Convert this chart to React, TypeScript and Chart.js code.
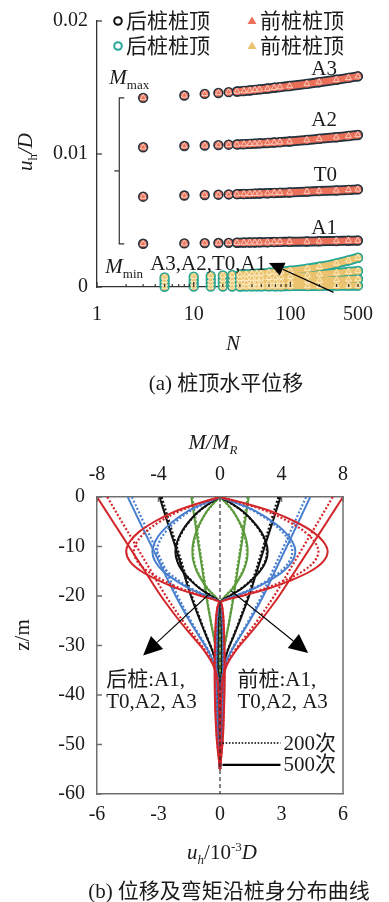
import React, { useEffect, useRef } from 'react';
import { Chart, registerables } from 'chart.js';

Chart.register(...registerables);

const SERIF = '"Liberation Serif", "Noto Sans CJK SC", serif';

// ---------------- (a) pile-head horizontal displacement ----------------
const X_TICKS_A = [1, 10, 100, 500];
const Y_TICKS_A = [0, 0.01, 0.02];
const N_MAX = [3, 8, 13, 18, 23, 28, 33, 38, 43, 48, 58, 68, 78, 98, 148, 198, 298, 398, 498];
const MAX_A3 = [0.01422, 0.0144, 0.01452, 0.01459, 0.01465, 0.0147, 0.01474, 0.01478, 0.01482, 0.01486, 0.01492, 0.01498, 0.01503, 0.01511, 0.01527, 0.0154, 0.01558, 0.01572, 0.01584];
const MAX_A2 = [0.01051, 0.0106, 0.01064, 0.01067, 0.0107, 0.01072, 0.01074, 0.01076, 0.01078, 0.0108, 0.01083, 0.01086, 0.01089, 0.01094, 0.01105, 0.01114, 0.01126, 0.01135, 0.01143];
const MAX_T0 = [0.00679, 0.00688, 0.00692, 0.00694, 0.00696, 0.00698, 0.00699, 0.007, 0.00702, 0.00703, 0.00705, 0.00707, 0.00708, 0.00711, 0.00717, 0.00721, 0.00726, 0.0073, 0.00734];
const MAX_A1 = [0.00325, 0.00328, 0.0033, 0.00331, 0.00332, 0.00333, 0.00334, 0.00335, 0.00335, 0.00336, 0.00337, 0.00338, 0.00339, 0.0034, 0.00342, 0.00344, 0.00346, 0.00348, 0.00349];
const N_MIN = [5, 10, 15, 20, 25, 30, 35, 40, 45, 50, 60, 70, 80, 100, 150, 200, 300, 400, 500];
const MIN_A3 = [0.00072, 0.00078, 0.00083, 0.00087, 0.0009, 0.00093, 0.00095, 0.00098, 0.001, 0.00102, 0.00107, 0.00111, 0.00115, 0.00122, 0.00138, 0.00152, 0.00178, 0.002, 0.0022];
const MIN_A2 = [0.00048, 0.00052, 0.00055, 0.00057, 0.00059, 0.00061, 0.00062, 0.00064, 0.00065, 0.00066, 0.00069, 0.00071, 0.00074, 0.00078, 0.00087, 0.00095, 0.00106, 0.00114, 0.0012];
const MIN_T0 = [0.00024, 0.00026, 0.00028, 0.00029, 0.0003, 0.00031, 0.00032, 0.00033, 0.00033, 0.00034, 0.00035, 0.00037, 0.00038, 0.0004, 0.00044, 0.00048, 0.00053, 0.00057, 0.0006];
const MIN_A1 = [0.00002, 0.00003, 0.00003, 0.00004, 0.00004, 0.00004, 0.00005, 0.00005, 0.00005, 0.00005, 0.00006, 0.00006, 0.00006, 0.00007, 0.00007, 0.00008, 0.00009, 0.0001, 0.0001];
const CURVE_NAMES = ['A3', 'A2', 'T0', 'A1'];
const LEGEND_REAR = '后桩桩顶';
const LEGEND_FRONT = '前桩桩顶';
const BAND_START = 5;

// ---------------- (b) distribution along pile ----------------
const ZD = [0, -5, -10, -15, -20, -25, -28, -31, -34, -37, -42, -48, -55];
const ZM = [0, -1.5, -3, -5, -7, -9, -11, -13, -15, -17, -18.5, -20, -21.3, -23, -28, -35, -42, -49, -55];

const U_REAR_A3_500 = [-6.0, -5.22, -4.44, -3.66, -2.88, -1.98, -1.38, -0.78, -0.33, -0.12, -0.04, -0.01, 0];
const U_REAR_A3_200 = [-5.5, -4.79, -4.07, -3.36, -2.64, -1.82, -1.27, -0.72, -0.3, -0.11, -0.03, -0.01, 0];
const U_REAR_A2_500 = [-4.5, -3.92, -3.33, -2.75, -2.16, -1.49, -1.04, -0.59, -0.25, -0.09, -0.03, -0.01, 0];
const U_REAR_A2_200 = [-4.3, -3.74, -3.18, -2.62, -2.06, -1.42, -0.99, -0.56, -0.24, -0.09, -0.03, -0.01, 0];
const U_REAR_T0_500 = [-2.95, -2.57, -2.18, -1.8, -1.42, -0.97, -0.68, -0.38, -0.16, -0.06, -0.02, -0.01, 0];
const U_REAR_T0_200 = [-2.85, -2.48, -2.11, -1.74, -1.37, -0.94, -0.66, -0.37, -0.16, -0.06, -0.02, -0.01, 0];
const U_REAR_A1_500 = [-1.4, -1.22, -1.04, -0.85, -0.67, -0.46, -0.32, -0.18, -0.08, -0.03, -0.01, 0, 0];
const U_REAR_A1_200 = [-1.35, -1.17, -1.0, -0.82, -0.65, -0.45, -0.31, -0.18, -0.07, -0.03, -0.01, 0, 0];
const U_FRONT_A3_500 = [6.0, 5.22, 4.44, 3.66, 2.88, 1.98, 1.38, 0.78, 0.33, 0.12, 0.04, 0.01, 0];
const U_FRONT_A3_200 = [5.5, 4.79, 4.07, 3.36, 2.64, 1.82, 1.27, 0.72, 0.3, 0.11, 0.03, 0.01, 0];
const U_FRONT_A2_500 = [4.4, 3.83, 3.26, 2.68, 2.11, 1.45, 1.01, 0.57, 0.24, 0.09, 0.03, 0.01, 0];
const U_FRONT_A2_200 = [4.2, 3.65, 3.11, 2.56, 2.02, 1.39, 0.97, 0.55, 0.23, 0.08, 0.03, 0.01, 0];
const U_FRONT_T0_500 = [2.95, 2.57, 2.18, 1.8, 1.42, 0.97, 0.68, 0.38, 0.16, 0.06, 0.02, 0.01, 0];
const U_FRONT_T0_200 = [2.85, 2.48, 2.11, 1.74, 1.37, 0.94, 0.66, 0.37, 0.16, 0.06, 0.02, 0.01, 0];
const U_FRONT_A1_500 = [1.4, 1.22, 1.04, 0.85, 0.67, 0.46, 0.32, 0.18, 0.08, 0.03, 0.01, 0, 0];
const U_FRONT_A1_200 = [1.35, 1.17, 1.0, 0.82, 0.65, 0.45, 0.31, 0.18, 0.07, 0.03, 0.01, 0, 0];

const M_REAR_A3_500 = [0, -1.65, -2.99, -4.27, -5.25, -5.86, -6.1, -5.86, -5.12, -3.9, -2.75, -1.22, 0, 0.18, 0.27, 0.31, 0.27, 0.18, 0];
const M_REAR_A3_200 = [0, -1.51, -2.74, -3.92, -4.82, -5.38, -5.6, -5.38, -4.7, -3.58, -2.52, -1.12, 0, 0.17, 0.25, 0.28, 0.25, 0.17, 0];
const M_REAR_A2_500 = [0, -1.19, -2.16, -3.08, -3.78, -4.22, -4.4, -4.22, -3.7, -2.82, -1.98, -0.88, 0, 0.13, 0.2, 0.22, 0.2, 0.13, 0];
const M_REAR_A2_200 = [0, -1.11, -2.01, -2.87, -3.53, -3.94, -4.1, -3.94, -3.44, -2.62, -1.85, -0.82, 0, 0.12, 0.18, 0.21, 0.18, 0.12, 0];
const M_REAR_T0_500 = [0, -0.78, -1.42, -2.03, -2.49, -2.78, -2.9, -2.78, -2.44, -1.86, -1.31, -0.58, 0, 0.09, 0.13, 0.15, 0.13, 0.09, 0];
const M_REAR_T0_200 = [0, -0.77, -1.4, -2.0, -2.45, -2.74, -2.85, -2.74, -2.39, -1.82, -1.28, -0.57, 0, 0.09, 0.13, 0.14, 0.13, 0.09, 0];
const M_REAR_A1_500 = [0, -0.49, -0.88, -1.26, -1.55, -1.73, -1.8, -1.73, -1.51, -1.15, -0.81, -0.36, 0, 0.05, 0.08, 0.09, 0.08, 0.05, 0];
const M_REAR_A1_200 = [0, -0.47, -0.86, -1.23, -1.51, -1.68, -1.75, -1.68, -1.47, -1.12, -0.79, -0.35, 0, 0.05, 0.08, 0.09, 0.08, 0.05, 0];
const M_FRONT_A3_500 = [0, 1.89, 3.43, 4.9, 6.02, 6.72, 7.0, 6.72, 5.88, 4.48, 3.15, 1.4, 0, -0.21, -0.32, -0.35, -0.32, -0.21, 0];
const M_FRONT_A3_200 = [0, 1.73, 3.14, 4.48, 5.5, 6.14, 6.4, 6.14, 5.38, 4.1, 2.88, 1.28, 0, -0.19, -0.29, -0.32, -0.29, -0.19, 0];
const M_FRONT_A2_500 = [0, 1.32, 2.4, 3.43, 4.21, 4.7, 4.9, 4.7, 4.12, 3.14, 2.21, 0.98, 0, -0.15, -0.22, -0.25, -0.22, -0.15, 0];
const M_FRONT_A2_200 = [0, 1.27, 2.3, 3.29, 4.04, 4.51, 4.7, 4.51, 3.95, 3.01, 2.12, 0.94, 0, -0.14, -0.21, -0.24, -0.21, -0.14, 0];
const M_FRONT_T0_500 = [0, 0.84, 1.52, 2.17, 2.67, 2.98, 3.1, 2.98, 2.6, 1.98, 1.4, 0.62, 0, -0.09, -0.14, -0.16, -0.14, -0.09, 0];
const M_FRONT_T0_200 = [0, 0.82, 1.49, 2.14, 2.62, 2.93, 3.05, 2.93, 2.56, 1.95, 1.37, 0.61, 0, -0.09, -0.14, -0.15, -0.14, -0.09, 0];
const M_FRONT_A1_500 = [0, 0.49, 0.88, 1.26, 1.55, 1.73, 1.8, 1.73, 1.51, 1.15, 0.81, 0.36, 0, -0.05, -0.08, -0.09, -0.08, -0.05, 0];
const M_FRONT_A1_200 = [0, 0.47, 0.86, 1.23, 1.51, 1.68, 1.75, 1.68, 1.47, 1.12, 0.79, 0.35, 0, -0.05, -0.08, -0.09, -0.08, -0.05, 0];

const RED = '#d3262b';
const BLUE = '#4a7fcf';
const BLACK = '#111111';
const GREEN = '#5c9a3c';

const SERIES_B = [
  { color: RED, cycles: 500, ur: U_REAR_A3_500, uf: U_FRONT_A3_500, mr: M_REAR_A3_500, mf: M_FRONT_A3_500 },
  { color: RED, cycles: 200, ur: U_REAR_A3_200, uf: U_FRONT_A3_200, mr: M_REAR_A3_200, mf: M_FRONT_A3_200 },
  { color: BLUE, cycles: 500, ur: U_REAR_A2_500, uf: U_FRONT_A2_500, mr: M_REAR_A2_500, mf: M_FRONT_A2_500 },
  { color: BLUE, cycles: 200, ur: U_REAR_A2_200, uf: U_FRONT_A2_200, mr: M_REAR_A2_200, mf: M_FRONT_A2_200 },
  { color: BLACK, cycles: 500, ur: U_REAR_T0_500, uf: U_FRONT_T0_500, mr: M_REAR_T0_500, mf: M_FRONT_T0_500 },
  { color: BLACK, cycles: 200, ur: U_REAR_T0_200, uf: U_FRONT_T0_200, mr: M_REAR_T0_200, mf: M_FRONT_T0_200 },
  { color: GREEN, cycles: 500, ur: U_REAR_A1_500, uf: U_FRONT_A1_500, mr: M_REAR_A1_500, mf: M_FRONT_A1_500 },
  { color: GREEN, cycles: 200, ur: U_REAR_A1_200, uf: U_FRONT_A1_200, mr: M_REAR_A1_200, mf: M_FRONT_A1_200 },
];
const X_TICKS_B = [-6, -3, 0, 3, 6];
const X2_TICKS_B = [-8, -4, 0, 4, 8];
const Z_MIN = -60;
const Z_MAX = 0;
const TEXT_REAR = ['后桩:A1,', 'T0,A2, A3'];
const TEXT_FRONT = ['前桩:A1,', 'T0,A2, A3'];
const CYCLE_LABELS = ['200次', '500次'];

// ---------------- helpers ----------------
type Part = { t: string; i?: boolean; sub?: boolean; sup?: boolean };
function rich(ctx: CanvasRenderingContext2D, parts: Part[], x: number, y: number, size: number, align = 'center') {
  const f = (p: Part) => `${p.i ? 'italic ' : ''}${p.sub || p.sup ? Math.round(size * 0.64) : size}px ${SERIF}`;
  let w = 0;
  for (const p of parts) { ctx.font = f(p); w += ctx.measureText(p.t).width; }
  let cx = align === 'left' ? x : align === 'right' ? x - w : x - w / 2;
  ctx.textAlign = 'left';
  ctx.textBaseline = 'alphabetic';
  for (const p of parts) {
    ctx.font = f(p);
    const dy = p.sub ? size * 0.24 : p.sup ? -size * 0.4 : 0;
    ctx.fillText(p.t, cx, y + dy);
    cx += ctx.measureText(p.t).width;
  }
}

function arrow(ctx: CanvasRenderingContext2D, x1: number, y1: number, x2: number, y2: number, len: number, half: number) {
  const a = Math.atan2(y2 - y1, x2 - x1);
  const bx = x2 - len * Math.cos(a);
  const by = y2 - len * Math.sin(a);
  ctx.beginPath();
  ctx.moveTo(x1, y1);
  ctx.lineTo(bx, by);
  ctx.stroke();
  ctx.beginPath();
  ctx.moveTo(x2, y2);
  ctx.lineTo(bx + half * Math.sin(a), by - half * Math.cos(a));
  ctx.lineTo(bx - half * Math.sin(a), by + half * Math.cos(a));
  ctx.closePath();
  ctx.fill();
}

const pts = (xs: number[], ys: number[]) => xs.map((x, i) => ({ x, y: ys[i] }));

// ---------------- chart (a) ----------------
const DARK = '#22323f';
const SALMON = '#e96f58';
const TEAL = '#27a695';
const SAND = '#ebc26d';

function bandSets(ns: number[], vals: number[], fill: string, edge: string, triEdge: string, base: number) {
  return [
    { data: pts(ns, vals), showLine: false, pointStyle: 'triangle', pointRadius: 3.4, pointBackgroundColor: fill, pointBorderColor: triEdge, pointBorderWidth: 0.9, order: base + 1, clip: false },
    { data: pts(ns.slice(BAND_START), vals.slice(BAND_START)), showLine: true, borderColor: fill, borderWidth: 6.4, pointRadius: 0, tension: 0.3, borderCapStyle: 'round', order: base + 2, clip: false },
    { data: pts(ns, vals), showLine: false, pointStyle: 'circle', pointRadius: 4.4, pointBackgroundColor: fill, pointBorderColor: edge, pointBorderWidth: 1.6, order: base + 3, clip: false },
    { data: pts(ns.slice(BAND_START), vals.slice(BAND_START)), showLine: true, borderColor: edge, borderWidth: 10, pointRadius: 0, tension: 0.3, borderCapStyle: 'round', order: base + 4, clip: false },
  ];
}

const pluginA = {
  id: 'decorA',
  afterDraw(chart: any) {
    const { ctx, chartArea: ca } = chart;
    const xs = chart.scales.x;
    const ys = chart.scales.y;
    ctx.save();
    ctx.strokeStyle = '#333';
    ctx.lineWidth = 1.2;
    for (const v of Y_TICKS_A) {
      const py = ys.getPixelForValue(v);
      ctx.beginPath(); ctx.moveTo(ca.left, py); ctx.lineTo(ca.left + 5, py); ctx.stroke();
    }
    for (let d = 1; d <= 100; d *= 10) {
      for (let k = 1; k <= 9; k++) {
        const v = d * k;
        if (v > 500) break;
        const px = xs.getPixelForValue(v);
        const len = k === 1 ? 5 : 3;
        ctx.beginPath(); ctx.moveTo(px, ca.bottom); ctx.lineTo(px, ca.bottom - len); ctx.stroke();
      }
    }
    const lx1 = ca.left + 21;
    const lx2 = ca.left + 155;
    const rows = [ca.top, ca.top + 25];
    const legend = [
      { x: lx1, y: rows[0], kind: 'c', color: '#111', text: LEGEND_REAR },
      { x: lx1, y: rows[1], kind: 'c', color: TEAL, text: LEGEND_REAR },
      { x: lx2, y: rows[0], kind: 't', color: SALMON, text: LEGEND_FRONT },
      { x: lx2, y: rows[1], kind: 't', color: SAND, text: LEGEND_FRONT },
    ];
    for (const it of legend) {
      if (it.kind === 'c') {
        ctx.beginPath(); ctx.arc(it.x, it.y, 3.8, 0, Math.PI * 2);
        ctx.fillStyle = '#fff'; ctx.fill();
        ctx.lineWidth = 2; ctx.strokeStyle = it.color; ctx.stroke();
      } else {
        ctx.beginPath(); ctx.moveTo(it.x, it.y - 4.5); ctx.lineTo(it.x + 4.5, it.y + 3); ctx.lineTo(it.x - 4.5, it.y + 3); ctx.closePath();
        ctx.fillStyle = it.color; ctx.fill();
      }
      ctx.fillStyle = '#1a1a1a';
      ctx.font = `21px ${SERIF}`;
      ctx.textAlign = 'left'; ctx.textBaseline = 'middle';
      ctx.fillText(it.text, it.x + 8, it.y + 1);
    }
    ctx.strokeStyle = '#333'; ctx.lineWidth = 1.2;
    const bx = xs.getPixelForValue(1.7);
    const bt = ys.getPixelForValue(MAX_A3[0]);
    const bb = ys.getPixelForValue(MAX_A1[0]);
    const bm = (bt + bb) / 2;
    ctx.beginPath();
    ctx.moveTo(bx + 5, bt); ctx.lineTo(bx, bt); ctx.lineTo(bx, bb); ctx.lineTo(bx + 5, bb);
    ctx.moveTo(bx, bm); ctx.lineTo(bx - 5, bm);
    ctx.stroke();
    ctx.fillStyle = '#1a1a1a';
    rich(ctx, [{ t: 'M', i: true }, { t: 'max', sub: true }], bx - 10, bt - 14, 21, 'left');
    rich(ctx, [{ t: 'M', i: true }, { t: 'min', sub: true }], bx - 14, ys.getPixelForValue(0) - 14, 21, 'left');
    const ends = [MAX_A3, MAX_A2, MAX_T0, MAX_A1];
    const offs = [1, 9, 8, 7];
    ends.forEach((arr, i) => {
      rich(ctx, [{ t: CURVE_NAMES[i] }], ca.right - 21, ys.getPixelForValue(arr[arr.length - 1]) - offs[i], 21, 'right');
    });
    rich(ctx, [{ t: CURVE_NAMES.join(',') }], xs.getPixelForValue(3.55), ys.getPixelForValue(0) - 17, 21, 'left');
    ctx.fillStyle = '#000'; ctx.strokeStyle = '#000'; ctx.lineWidth = 1.3;
    arrow(ctx, xs.getPixelForValue(280), ys.getPixelForValue(-0.0004), xs.getPixelForValue(60), ys.getPixelForValue(0.0018), 15, 7);
    ctx.fillStyle = '#1a1a1a';
    rich(ctx, [{ t: 'N', i: true }], 233, 350, 21);
    rich(ctx, [{ t: '(a) 桩顶水平位移' }], 226, 390, 21);
    ctx.save();
    ctx.translate(32, 152);
    ctx.rotate(-Math.PI / 2);
    rich(ctx, [{ t: 'u', i: true }, { t: 'h', sub: true }, { t: '/D', i: true }], 0, 0, 21);
    ctx.restore();
    ctx.restore();
  },
};

function configA(): any {
  const datasets: any[] = [];
  [MAX_A3, MAX_A2, MAX_T0, MAX_A1].forEach((v) => datasets.push(...bandSets(N_MAX, v, SALMON, DARK, '#fcd6c9', 0)));
  [MIN_A3, MIN_A2, MIN_T0, MIN_A1].forEach((v) => datasets.push(...bandSets(N_MIN, v, SAND, TEAL, '#fff0cf', 10)));
  const tickFont = { family: SERIF, size: 20 };
  return {
    type: 'scatter',
    data: { datasets },
    options: {
      animation: false,
      responsive: false,
      events: [],
      layout: { padding: { top: 18, right: 23, left: 0, bottom: 0 } },
      plugins: { legend: { display: false }, tooltip: { enabled: false } },
      scales: {
        x: {
          type: 'logarithmic', min: 1, max: 500,
          afterBuildTicks: (s: any) => { s.ticks = X_TICKS_A.map((value) => ({ value })); },
          ticks: { font: tickFont, color: '#1a1a1a', padding: 16, autoSkip: false, maxRotation: 0, callback: (v: any) => String(v) },
          grid: { display: false, drawTicks: false },
          border: { display: true, color: '#333', width: 1.3 },
          afterFit: (s: any) => { s.height = 113; },
        },
        y: {
          type: 'linear', min: 0, max: 0.02,
          afterBuildTicks: (s: any) => { s.ticks = Y_TICKS_A.map((value) => ({ value })); },
          ticks: { font: tickFont, color: '#1a1a1a', padding: 9, callback: (v: any) => (v === 0 ? '0' : Number(v).toFixed(2)) },
          grid: { display: false, drawTicks: false },
          border: { display: true, color: '#333', width: 1.3 },
          afterFit: (s: any) => { s.width = 97; },
        },
      },
    },
    plugins: [pluginA],
  };
}

// ---------------- chart (b) ----------------
const FRAME = '#6f6f6f';

const pluginB = {
  id: 'decorB',
  afterDraw(chart: any) {
    const { ctx, chartArea: ca } = chart;
    const xs = chart.scales.x;
    const x2 = chart.scales.x2;
    const ys = chart.scales.y;
    ctx.save();
    ctx.strokeStyle = FRAME; ctx.lineWidth = 1.5;
    ctx.beginPath(); ctx.moveTo(ca.right, ca.top); ctx.lineTo(ca.right, ca.bottom); ctx.stroke();
    for (let z = Z_MIN; z <= Z_MAX; z += 10) {
      const py = ys.getPixelForValue(z);
      ctx.beginPath(); ctx.moveTo(ca.left, py); ctx.lineTo(ca.left + 5, py); ctx.stroke();
    }
    for (const v of X2_TICKS_B) {
      const px = x2.getPixelForValue(v);
      ctx.beginPath(); ctx.moveTo(px, ca.top); ctx.lineTo(px, ca.top + 5); ctx.stroke();
    }
    ctx.strokeStyle = '#000'; ctx.fillStyle = '#000'; ctx.lineWidth = 1.1;
    arrow(ctx, xs.getPixelForValue(-0.5), ys.getPixelForValue(-19.5), xs.getPixelForValue(-3.75), ys.getPixelForValue(-32), 19, 9);
    arrow(ctx, xs.getPixelForValue(0.55), ys.getPixelForValue(-19), xs.getPixelForValue(4.3), ys.getPixelForValue(-31.5), 19, 9);
    ctx.fillStyle = '#1a1a1a';
    ctx.font = `21px ${SERIF}`;
    ctx.textAlign = 'left'; ctx.textBaseline = 'middle';
    TEXT_REAR.forEach((t, i) => ctx.fillText(t, xs.getPixelForValue(-5.55), ys.getPixelForValue(-37) + i * 22));
    TEXT_FRONT.forEach((t, i) => ctx.fillText(t, xs.getPixelForValue(0.85), ys.getPixelForValue(-37) + i * 22));
    const lz = [-49.7, -54.1];
    lz.forEach((z, i) => {
      const py = ys.getPixelForValue(z);
      ctx.strokeStyle = '#000'; ctx.lineWidth = i === 0 ? 1.6 : 2.2;
      ctx.setLineDash(i === 0 ? [1.6, 1.6] : []);
      ctx.beginPath(); ctx.moveTo(xs.getPixelForValue(0.12), py); ctx.lineTo(xs.getPixelForValue(2.95), py); ctx.stroke();
      ctx.setLineDash([]);
      ctx.fillStyle = '#1a1a1a';
      ctx.font = `21px ${SERIF}`;
      ctx.fillText(CYCLE_LABELS[i], xs.getPixelForValue(3.1), py + 1);
    });
    rich(ctx, [{ t: 'M/M', i: true }, { t: 'R', i: true, sub: true }], 213, 49, 21);
    rich(ctx, [{ t: 'u', i: true }, { t: 'h', i: true, sub: true }, { t: '/10' }, { t: '-3', sup: true }, { t: 'D', i: true }], 222, 459, 21);
    rich(ctx, [{ t: '(b) 位移及弯矩沿桩身分布曲线' }], 229, 498, 21);
    ctx.save();
    ctx.translate(29, 235);
    ctx.rotate(-Math.PI / 2);
    rich(ctx, [{ t: 'z/m' }], 0, 0, 21);
    ctx.restore();
    ctx.restore();
  },
};

function configB(): any {
  const datasets: any[] = [];
  datasets.push({
    data: [{ x: 0, y: Z_MAX }, { x: 0, y: Z_MIN }], showLine: true, borderColor: '#222', borderWidth: 1.1,
    borderDash: [4, 3], pointRadius: 0, order: 0,
  });
  SERIES_B.forEach((s, k) => {
    const dash = s.cycles === 200 ? [2, 2] : [];
    const bw = s.cycles === 200 ? 2.2 : 2;
    const common = { showLine: true, borderColor: s.color, borderWidth: bw, borderDash: dash, pointRadius: 0, tension: 0.35, order: k + 1 };
    datasets.push({ ...common, xAxisID: 'x', data: pts(s.ur, ZD) });
    datasets.push({ ...common, xAxisID: 'x', data: pts(s.uf, ZD) });
    datasets.push({ ...common, xAxisID: 'x2', data: pts(s.mr, ZM) });
    datasets.push({ ...common, xAxisID: 'x2', data: pts(s.mf, ZM) });
  });
  const tickFont = { family: SERIF, size: 20 };
  return {
    type: 'scatter',
    data: { datasets },
    options: {
      animation: false,
      responsive: false,
      events: [],
      layout: { padding: { top: 0, right: 46, left: 0, bottom: 0 } },
      plugins: { legend: { display: false }, tooltip: { enabled: false } },
      scales: {
        x: {
          type: 'linear', position: 'bottom', min: -6, max: 6,
          afterBuildTicks: (s: any) => { s.ticks = X_TICKS_B.map((value) => ({ value })); },
          ticks: { font: tickFont, color: '#1a1a1a', padding: 9, maxRotation: 0, callback: (v: any) => String(v) },
          grid: { display: false, drawTicks: false },
          border: { display: true, color: FRAME, width: 1.5 },
          afterFit: (s: any) => { s.height = 108; },
        },
        x2: {
          type: 'linear', position: 'top', min: -8, max: 8,
          afterBuildTicks: (s: any) => { s.ticks = X2_TICKS_B.map((value) => ({ value })); },
          ticks: { font: tickFont, color: '#1a1a1a', padding: 10, maxRotation: 0, callback: (v: any) => String(v) },
          grid: { display: false, drawTicks: false },
          border: { display: true, color: FRAME, width: 1.5 },
          afterFit: (s: any) => { s.height = 97; },
        },
        y: {
          type: 'linear', min: Z_MIN, max: Z_MAX,
          ticks: { stepSize: 10, font: tickFont, color: '#1a1a1a', padding: 12, callback: (v: any) => String(v) },
          grid: { display: false, drawTicks: false },
          border: { display: true, color: FRAME, width: 1.5 },
          afterFit: (s: any) => { s.width = 97; },
        },
      },
    },
    plugins: [pluginB],
  };
}

export default function App() {
  const refA = useRef<HTMLCanvasElement>(null);
  const refB = useRef<HTMLCanvasElement>(null);
  useEffect(() => {
    const a = new Chart(refA.current as HTMLCanvasElement, configA());
    const b = new Chart(refB.current as HTMLCanvasElement, configB());
    return () => { a.destroy(); b.destroy(); };
  }, []);
  return (
    <div style={{ position: 'absolute', left: 0, top: 0, width: 389, height: 902, background: '#fff' }}>
      <canvas ref={refA} width={389} height={400} style={{ position: 'absolute', left: 0, top: 0 }} />
      <canvas ref={refB} width={389} height={502} style={{ position: 'absolute', left: 0, top: 400 }} />
    </div>
  );
}
